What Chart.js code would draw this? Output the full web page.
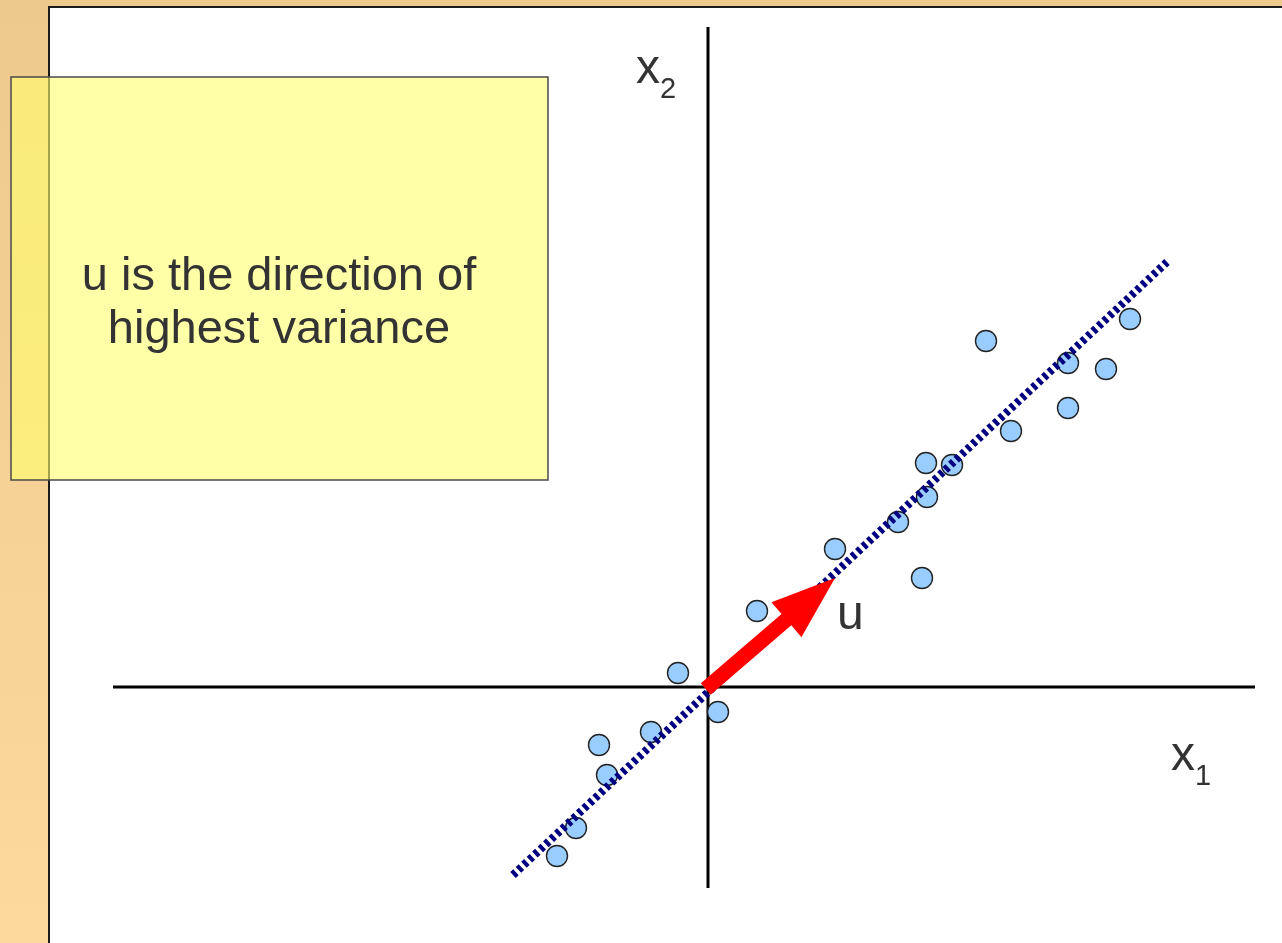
<!DOCTYPE html>
<html>
<head>
<meta charset="utf-8">
<script src="https://cdn.jsdelivr.net/npm/chart.js@4/dist/chart.umd.min.js"></script>
<style>
  html, body { margin: 0; padding: 0; background: #fff; }
  #wrap { width: 1282px; height: 943px; position: relative; }
</style>
</head>
<body>
<div id="wrap"><canvas id="c" width="1282" height="943"></canvas></div>
<script>
// Sample observations (x1, x2)
const samplesX1 = [-1.51, -1.32, -1.09, -1.01, -0.57, -0.30, 0.10, 0.49, 1.27, 1.90, 2.14, 2.18, 2.19, 2.44, 2.78, 3.03, 3.60, 3.60, 3.98, 4.22];
const samplesX2 = [-1.69, -1.41, -0.58, -0.88, -0.45, 0.14, -0.25, 0.76, 1.38, 1.65, 1.09, 2.24, 1.90, 2.22, 3.46, 2.56, 2.79, 3.24, 3.18, 3.68];

// Principal direction line through the cloud
const principalX1 = [-1.95, 4.59];
const principalX2 = [-1.88, 4.25];

// Direction vector u, starting at the origin
const vectorU = [1.27, 1.09];

// Coordinate axes extents
const axisX1Range = [-5.95, 5.47];
const axisX2Range = [-2.01, 6.60];

// Plot window
const x1Limits = [-7.08, 5.74];
const x2Limits = [-2.56, 6.87];

const noteLines = ['u is the direction of', 'highest variance'];

const FONT = '"Liberation Sans", Arial, Helvetica, sans-serif';
const TEXT = '#333333';

const samplePoints = samplesX1.map((v, i) => ({ x: v, y: samplesX2[i] }));

// Page backdrop: warm frame and white slide panel
const backdrop = {
  id: 'backdrop',
  beforeDraw(chart) {
    const ctx = chart.ctx, W = chart.width, H = chart.height;
    ctx.save();
    const g = ctx.createLinearGradient(0, 0, 0, H);
    g.addColorStop(0, '#eec98e');
    g.addColorStop(1, '#fdd99e');
    ctx.fillStyle = g;
    ctx.fillRect(0, 0, W, H);
    ctx.fillStyle = '#ffffff';
    ctx.fillRect(49, 7, W - 49, H - 7);
    ctx.strokeStyle = '#1a1a1a';
    ctx.lineWidth = 2;
    ctx.beginPath();
    ctx.moveTo(49, H);
    ctx.lineTo(49, 7);
    ctx.lineTo(W, 7);
    ctx.stroke();
    ctx.restore();
  }
};

// Arrow for u, note box and axis labels
const overlay = {
  id: 'overlay',
  afterDatasetsDraw(chart) {
    const ctx = chart.ctx;
    const xs = chart.scales.x, ys = chart.scales.y;
    const x0 = xs.getPixelForValue(0), y0 = ys.getPixelForValue(0);
    const x1 = xs.getPixelForValue(vectorU[0]), y1 = ys.getPixelForValue(vectorU[1]);
    const dx = x1 - x0, dy = y1 - y0;
    const len = Math.hypot(dx, dy);
    const ux = dx / len, uy = dy / len;
    const nx = -uy, ny = ux;
    const headLen = 64, headHalf = 23, shaftHalf = 7.5;
    const bx = x1 - ux * headLen, by = y1 - uy * headLen;
    ctx.save();
    ctx.fillStyle = '#ff0000';
    ctx.beginPath();
    ctx.moveTo(x0 + nx * shaftHalf - ux * 3, y0 + ny * shaftHalf - uy * 3);
    ctx.lineTo(bx + nx * shaftHalf, by + ny * shaftHalf);
    ctx.lineTo(bx + nx * headHalf, by + ny * headHalf);
    ctx.lineTo(x1, y1);
    ctx.lineTo(bx - nx * headHalf, by - ny * headHalf);
    ctx.lineTo(bx - nx * shaftHalf, by - ny * shaftHalf);
    ctx.lineTo(x0 - nx * shaftHalf - ux * 3, y0 - ny * shaftHalf - uy * 3);
    ctx.closePath();
    ctx.fill();
    ctx.restore();
  },
  afterDraw(chart) {
    const ctx = chart.ctx;
    const xs = chart.scales.x, ys = chart.scales.y;
    ctx.save();
    // note box
    ctx.fillStyle = 'rgba(255, 255, 110, 0.6)';
    ctx.fillRect(11, 77, 537, 403);
    ctx.strokeStyle = '#4a4a4a';
    ctx.lineWidth = 1.5;
    ctx.strokeRect(11, 77, 537, 403);
    ctx.fillStyle = TEXT;
    ctx.font = '47px ' + FONT;
    ctx.textAlign = 'center';
    ctx.textBaseline = 'alphabetic';
    ctx.fillText(noteLines[0], 279, 290);
    ctx.fillText(noteLines[1], 279, 343);

    // axis and vector labels
    ctx.textAlign = 'left';
    const put = (main, sub, vx, vy) => {
      const px = xs.getPixelForValue(vx), py = ys.getPixelForValue(vy);
      ctx.font = '48px ' + FONT;
      ctx.fillText(main, px, py);
      if (sub) {
        const w = ctx.measureText(main).width;
        ctx.font = '29px ' + FONT;
        ctx.fillText(sub, px + w, py + 15);
      }
    };
    put('x', '2', -0.72, 6.04);
    put('x', '1', 4.63, -0.83);
    put('u', null, 1.29, 0.58);
    ctx.restore();
  }
};

new Chart(document.getElementById('c'), {
  type: 'scatter',
  data: {
    datasets: [
      {
        label: 'x1 axis',
        data: axisX1Range.map(v => ({ x: v, y: 0 })),
        showLine: true, borderColor: '#000', borderWidth: 3, pointRadius: 0, order: 5
      },
      {
        label: 'x2 axis',
        data: axisX2Range.map(v => ({ x: 0, y: v })),
        showLine: true, borderColor: '#000', borderWidth: 3, pointRadius: 0, order: 4
      },
      {
        label: 'samples',
        data: samplePoints,
        pointRadius: 10.5, pointBackgroundColor: '#99ccff', pointBorderColor: '#222', pointBorderWidth: 1.4,
        order: 3
      },
      {
        label: 'principal direction',
        data: principalX1.map((v, i) => ({ x: v, y: principalX2[i] })),
        showLine: true, borderColor: '#000080', borderWidth: 8, borderDash: [4, 3.5],
        borderCapStyle: 'butt', pointRadius: 0, order: 2
      }
    ]
  },
  options: {
    responsive: false,
    animation: false,
    devicePixelRatio: 1,
    layout: { padding: 0, autoPadding: false },
    events: [],
    plugins: { legend: { display: false }, tooltip: { enabled: false } },
    scales: {
      x: { type: 'linear', min: x1Limits[0], max: x1Limits[1], display: false },
      y: { type: 'linear', min: x2Limits[0], max: x2Limits[1], display: false }
    }
  },
  plugins: [backdrop, overlay]
});
</script>
</body>
</html>
